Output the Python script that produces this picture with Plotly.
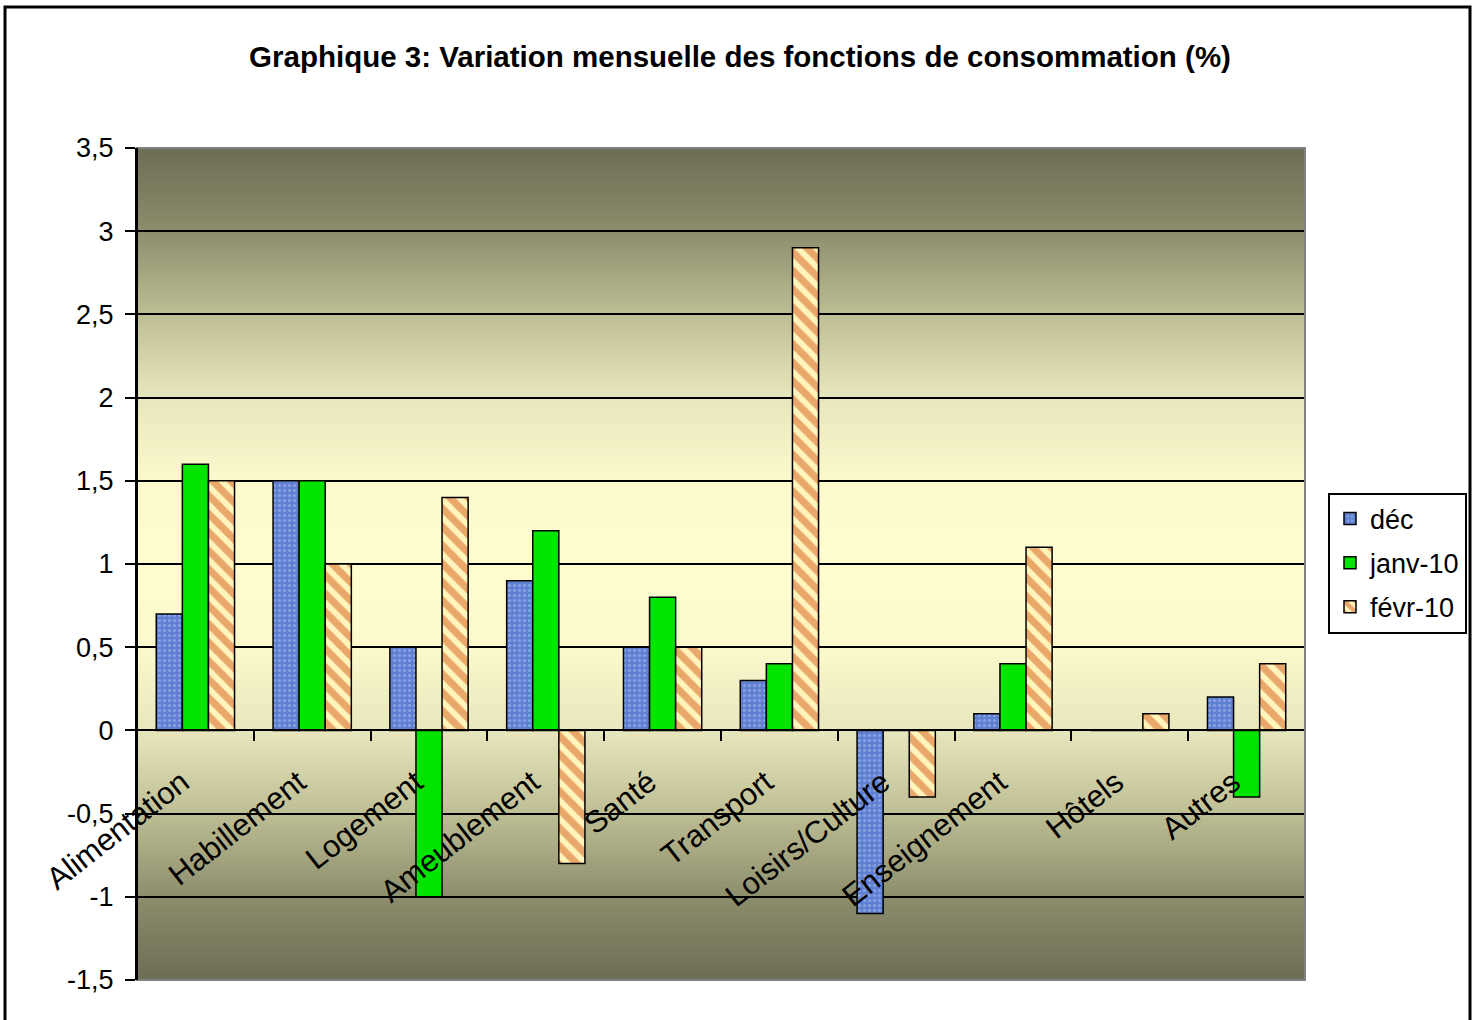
import plotly.graph_objects as go

# ---- data ----
categories = ["Alimentation", "Habillement", "Logement", "Ameublement", "Santé",
              "Transport", "Loisirs/Culture", "Enseignement", "Hôtels", "Autres"]
series_names = ["déc", "janv-10", "févr-10"]
dec_values = [0.7, 1.5, 0.5, 0.9, 0.5, 0.3, -1.1, 0.1, 0.0, 0.2]
janv_values = [1.6, 1.5, -1.0, 1.2, 0.8, 0.4, 0.0, 0.4, 0.0, -0.4]
fevr_values = [1.5, 1.0, 1.4, -0.8, 0.5, 2.9, -0.4, 1.1, 0.1, 0.4]
y_tick_values = [-1.5, -1.0, -0.5, 0.0, 0.5, 1.0, 1.5, 2.0, 2.5, 3.0, 3.5]
y_tick_labels = ["-1,5", "-1", "-0,5", "0", "0,5", "1", "1,5", "2", "2,5", "3", "3,5"]
title_text = "Graphique 3: Variation mensuelle des fonctions de consommation (%)"

# ---- layout geometry ----
W, H = 1473, 1020
ML, MR, MT, MB = 137, 168, 148, 40
PW, PH = W - ML - MR, H - MT - MB
Y_MIN, Y_MAX = -1.5, 3.5
FONT = "Arial, Liberation Sans, sans-serif"


def px_to_paper_x(px):
    return (px - ML) / PW


def px_to_paper_y(py):
    return (H - MB - py) / PH


fig = go.Figure()

fig.add_trace(go.Bar(
    name=series_names[0], x=categories, y=dec_values, legendgroup="a",
    marker=dict(color="#5f7fd2", line=dict(color="black", width=1.5),
                pattern=dict(shape=".", fgcolor="#b4c6f0", bgcolor="#5f7fd2",
                             size=5, solidity=0.3)),
))
fig.add_trace(go.Bar(
    name=series_names[1], x=categories, y=janv_values, legendgroup="b",
    marker=dict(color="#00e400", line=dict(color="black", width=1.5)),
))
fig.add_trace(go.Bar(
    name=series_names[2], x=categories, y=fevr_values, legendgroup="c",
    marker=dict(color="#fff3b8", line=dict(color="black", width=1.5),
                pattern=dict(shape="\\", fgcolor="#d65a18", bgcolor="#fff4bc",
                             size=13, solidity=0.55)),
))

# ---- gradient background (dark edges, light centre) ----
stops = [(0.0, (255, 252, 208)), (0.2, (252, 249, 204)), (0.4, (232, 230, 188)),
         (0.6, (190, 190, 148)), (0.8, (140, 141, 108)), (1.0, (108, 109, 85))]


def grad_color(d):
    for (d0, c0), (d1, c1) in zip(stops[:-1], stops[1:]):
        if d <= d1:
            t = (d - d0) / (d1 - d0) if d1 > d0 else 0
            return "rgb(%d,%d,%d)" % tuple(round(a + (b - a) * t) for a, b in zip(c0, c1))
    return "rgb(%d,%d,%d)" % stops[-1][1]


shapes = []
N = 160
for i in range(N):
    y0 = i / N
    y1 = (i + 1) / N
    mid = (y0 + y1) / 2
    d = abs(mid - 0.5) / 0.5
    shapes.append(dict(type="rect", xref="paper", yref="paper", x0=0, x1=1,
                       y0=y0, y1=min(1, y1 + 0.002), fillcolor=grad_color(d),
                       line=dict(width=0), layer="below"))

# plot-area border (grey)
shapes.append(dict(type="rect", xref="paper", yref="paper", x0=0, x1=1, y0=0, y1=1,
                   line=dict(color="#808080", width=2), fillcolor="rgba(0,0,0,0)",
                   layer="above"))
# left axis line over border
shapes.append(dict(type="line", xref="paper", yref="paper", x0=0, x1=0, y0=0, y1=1,
                   line=dict(color="black", width=2), layer="above"))
# outer chart border
shapes.append(dict(type="rect", xref="paper", yref="paper",
                   x0=px_to_paper_x(5), x1=px_to_paper_x(1470),
                   y0=px_to_paper_y(1030), y1=px_to_paper_y(7),
                   line=dict(color="black", width=3), fillcolor="rgba(0,0,0,0)",
                   layer="above"))

zero_pos = (0 - Y_MIN) / (Y_MAX - Y_MIN)
x_tick_text = [c + "\u00a0\u00a0" for c in categories]

fig.update_layout(
    width=W, height=H,
    margin=dict(l=ML, r=MR, t=MT, b=MB, autoexpand=False),
    paper_bgcolor="white",
    plot_bgcolor="rgba(0,0,0,0)",
    barmode="group",
    bargap=0.33,
    bargroupgap=0.0,
    font=dict(family=FONT, size=27, color="black"),
    title=dict(text="<b>" + title_text + "</b>", x=740 / W, y=1 - 57 / H,
               xref="container", yref="container", xanchor="center", yanchor="middle",
               font=dict(family=FONT, size=29.5, color="black")),
    xaxis=dict(
        type="category", anchor="free", position=zero_pos,
        tickmode="array", tickvals=categories, ticktext=x_tick_text,
        showline=True, linecolor="black", linewidth=2,
        ticks="outside", tickson="boundaries", ticklen=10, tickwidth=2, tickcolor="black",
        showgrid=False, tickangle=-38, ticklabelstandoff=10,
        tickfont=dict(family=FONT, size=31, color="black"),
    ),
    yaxis=dict(
        range=[Y_MIN, Y_MAX], tickmode="array", tickvals=y_tick_values,
        ticktext=y_tick_labels,
        showline=True, linecolor="black", linewidth=2,
        ticks="outside", ticklen=10, tickwidth=2, tickcolor="black",
        ticklabelstandoff=6,
        showgrid=True, gridcolor="black", gridwidth=1.5,
        zeroline=False,
        tickfont=dict(family=FONT, size=27, color="black"),
    ),
    legend=dict(
        xref="container", yref="container",
        x=1328 / W, xanchor="left", y=1 - 563 / H, yanchor="middle",
        bgcolor="white", bordercolor="black", borderwidth=2,
        font=dict(family=FONT, size=27, color="black"),
        traceorder="grouped", tracegroupgap=6, itemwidth=30,
    ),
    shapes=shapes,
    showlegend=True,
)

fig.write_html("out.html", config={"displayModeBar": False},
               post_script="document.body.style.margin='0';document.body.style.padding='0';")
